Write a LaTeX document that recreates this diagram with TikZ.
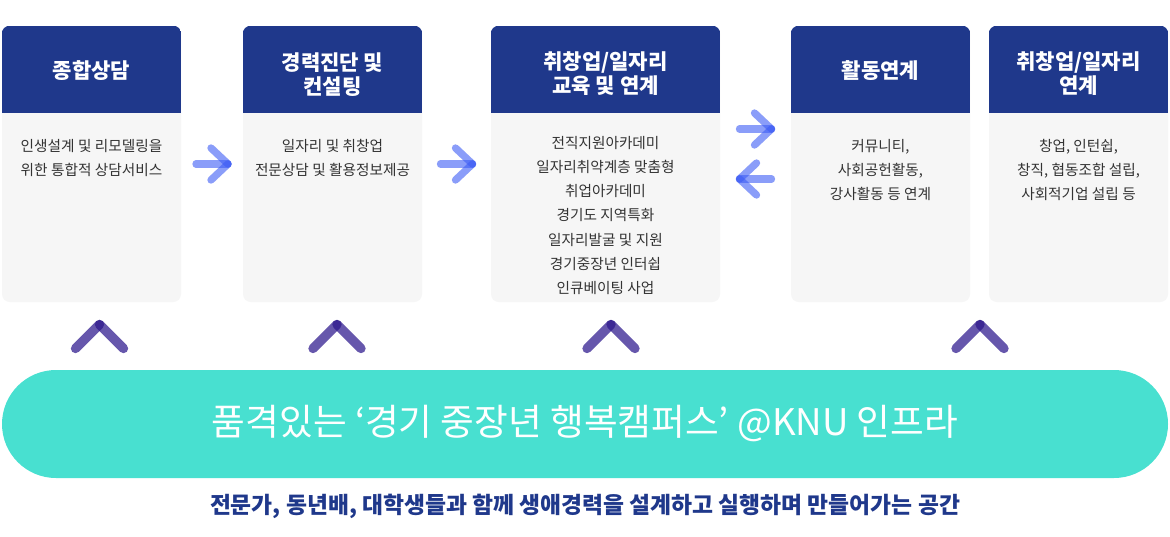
\documentclass[tikz,border=0pt]{standalone}
\usepackage{fontspec}
\setmainfont{Noto Sans CJK KR}
\usetikzlibrary{calc, positioning}
\definecolor{headbg}{HTML}{1F388B}
\definecolor{cardbg}{HTML}{F6F6F6}
\definecolor{pillbg}{HTML}{48E0D0}
\definecolor{bodyink}{HTML}{333333}
\definecolor{flowblue}{HTML}{3D5CF5}
\definecolor{markpurple}{HTML}{2C178C}

\begin{document}
\begin{tikzpicture}[
    x=0.75pt, y=-0.75pt,
    card/.style={fill=cardbg, rounded corners=6pt, minimum height=207pt, inner sep=0pt},
    headtxt/.style={text=white, align=center, font={\fontsize{15.8}{18.5}\selectfont\bfseries}},
    bodytxt/.style={text=bodyink, align=center, anchor=north, inner sep=0pt,
                    font={\fontsize{11}{18.2}\selectfont}},
    pill/.style={fill=pillbg, rounded corners=40.5pt, minimum width=874.5pt, minimum height=81pt,
                 text=white, font={\fontsize{27.5}{32}\selectfont}},
    tagline/.style={text=headbg, font={\fontsize{17.1}{20}\selectfont\bfseries}},
    flow/.style={draw=flowblue, line width=5.5pt, line cap=round, opacity=.6},
    markline/.style={draw=markpurple, line width=7pt, line cap=round, opacity=.72},
    fwd/.pic={\draw[flow] (-16,0) -- (16,0);
              \draw[flow] (-1,-16) -- (16,0);
              \draw[flow] (-1,16) -- (16,0);},
    bwd/.pic={\draw[flow] (16,0) -- (-16,0);
              \draw[flow] (1,-16) -- (-16,0);
              \draw[flow] (1,16) -- (-16,0);},
    upmark/.pic={\draw[markline] (-24,24) -- (0,0);
                 \draw[markline] (24,24) -- (0,0);},
]
\fill[white] (0,0) rectangle (1170,536);
\useasboundingbox (0,0) rectangle (1170,536);

% cards
\node[card, minimum width=134.25pt] (c1) at (91.5,164) {};
\node[card, minimum width=134.25pt] (c2) at (332.5,164) {};
\node[card, minimum width=171.75pt] (c3) at (605.5,164) {};
\node[card, minimum width=134.25pt] (c4) at (880.5,164) {};
\node[card, minimum width=134.25pt] (c5) at (1078.5,164) {};

\foreach \c in {c1,c2,c3,c4,c5} {
  \begin{scope}
    \clip[rounded corners=6pt] (\c.south west) rectangle (\c.north east);
    \fill[headbg] (\c.north west) rectangle ($(\c.north east)+(0,87)$);
  \end{scope}
}

\node[headtxt] (h1) at ($(c1.north)+(0,45)$) {종합상담};
\node[headtxt] (h2) at ($(c2.north)+(0,49)$) {경력진단 및\\컨설팅};
\node[headtxt] (h3) at ($(c3.north)+(0,48)$) {취창업/일자리\\교육 및 연계};
\node[headtxt] (h4) at ($(c4.north)+(0,45)$) {활동연계};
\node[headtxt] (h5) at ($(c5.north)+(0,48)$) {취창업/일자리\\연계};

\node[bodytxt] (t1) at ($(c1.north)+(0,113)$) {인생설계 및 리모델링을\\위한 통합적 상담서비스};
\node[bodytxt] (t2) at ($(c2.north)+(0,113)$) {일자리 및 취창업\\전문상담 및 활용정보제공};
\node[bodytxt] (t3) at ($(c3.north)+(0,110)$) {전직지원아카데미\\일자리취약계층 맞춤형\\취업아카데미\\경기도 지역특화\\일자리발굴 및 지원\\경기중장년 인터쉽\\인큐베이팅 사업};
\node[bodytxt] (t4) at ($(c4.north)+(0,113)$) {커뮤니티,\\사회공헌활동,\\강사활동 등 연계};
\node[bodytxt] (t5) at ($(c5.north)+(0,113)$) {창업, 인턴쉽,\\창직, 협동조합 설립,\\사회적기업 설립 등};

% flow arrows
\path ($(c1.east)!.5!(c2.west)$) pic {fwd};
\path ($(c2.east)!.5!(c3.west)$) pic {fwd};
\path ($(c3.east)!.5!(c4.west)+(0,-35)$) pic {fwd};
\path ($(c3.east)!.5!(c4.west)+(0,15)$) pic {bwd};

% base
\node[pill] (base) at (585,424) {품격있는 ‘경기 중장년 행복캠퍼스’ @KNU 인프라};
\node[tagline, below=8.5pt of base] (tag) {전문가, 동년배, 대학생들과 함께 생애경력을 설계하고 실행하며 만들어가는 공간};

\foreach \cx in {99.5,337,611,980}
  \path (\cx,324.5) pic {upmark};
\end{tikzpicture}
\end{document}
